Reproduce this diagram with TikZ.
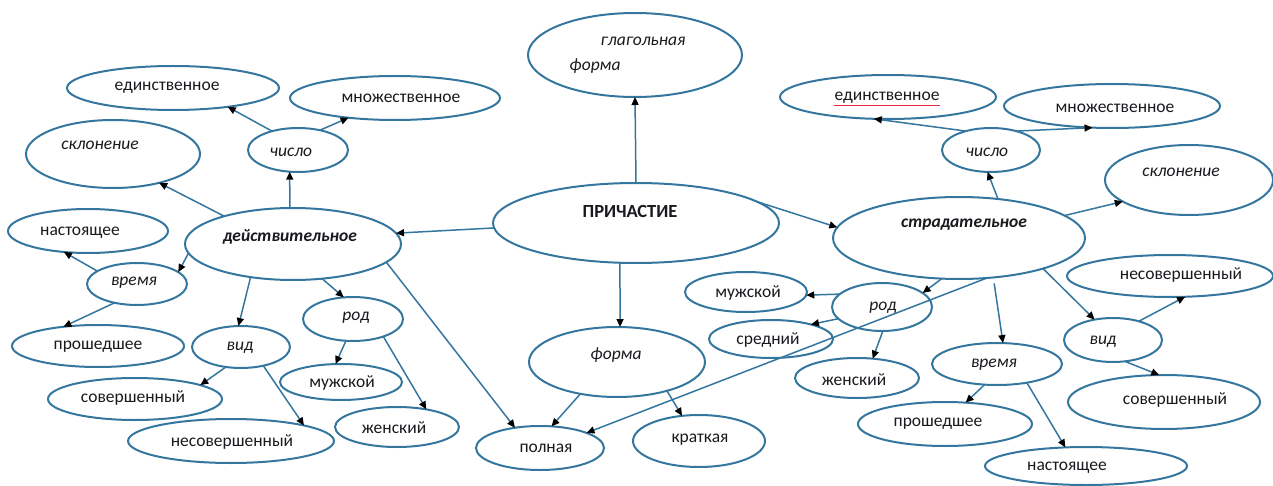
\documentclass[tikz,border=0pt]{standalone}
\usepackage{fontspec}
\setmainfont{Carlito}
\usetikzlibrary{shapes.geometric,arrows.meta}
\definecolor{lineC}{RGB}{52,118,158}
\definecolor{textC}{RGB}{25,25,30}
\definecolor{spellC}{RGB}{230,40,60}
\newcommand\bub[9]{%
  \node[ell, minimum width=2*#4, minimum height=2*#5] (#1) at (#2,#3) {};
  \node[txt,#8] (#1t) at (#6,#7) {#9};}
\tikzset{
  ell/.style={ellipse, draw=lineC, line width=2pt, inner sep=0pt, outer sep=0pt},
  txt/.style={inner sep=0pt, text=textC, font=\fontsize{17.5}{19}\selectfont},
  it/.style={font=\fontsize{17.5}{19}\selectfont\itshape},
  bit/.style={font=\fontsize{17.5}{19}\selectfont\bfseries\itshape},
  bf/.style={font=\fontsize{18.5}{20}\selectfont\bfseries},
  up/.style={},
  arr/.style={draw=lineC, line width=1.5pt, -{Triangle[length=8pt,width=7pt,color=black]}}
}
\begin{document}
\begin{tikzpicture}[x=1pt,y=-1pt]
\useasboundingbox (0,0) rectangle (1273,486);
% left
\bub{edL}{173}{88}{106}{22}{167}{88}{up}{единственное}
\bub{mnL}{395}{98}{105}{22}{401}{98}{up}{множественное}
\bub{skL}{113}{154}{87}{34}{100}{145}{it}{склонение}
\bub{chL}{298}{150}{50}{22}{291}{152}{it}{число}
\bub{naL}{88}{231}{80}{22}{80}{233}{up}{настоящее}
\bub{dv}{293}{244}{108}{36}{290}{237}{bit}{действительное}
\bub{vrL}{137}{284}{50}{21}{134}{283}{it}{время}
\bub{prL}{98}{346}{86}{21}{98}{347}{up}{прошедшее}
\bub{viL}{241}{347}{49}{21}{240}{348}{it}{вид}
\bub{roL}{353}{319}{50}{22}{356}{318}{it}{род}
\bub{soL}{135}{399}{87}{21}{133}{398}{up}{совершенный}
\bub{muL}{341}{382}{61}{18}{342}{383}{up}{мужской}
\bub{neL}{231}{441}{103}{22}{232}{442}{up}{несовершенный}
\bub{zhL}{397}{427}{62}{20}{394}{428}{up}{женский}
% centre
\node[ell, minimum width=214, minimum height=84] (gl) at (635,55) {};
\node[txt,it] (glt1) at (643,41) {глагольная};
\node[txt,it] (glt2) at (595,66) {форма};
\bub{pr}{636}{223}{143}{40}{630}{211}{bf}{ПРИЧАСТИЕ}
\bub{fo}{617}{362}{88}{35}{616}{355}{it}{форма}
\bub{po}{540}{448}{64}{22}{546}{448}{up}{полная}
\bub{kr}{699}{441}{66}{26}{700}{440}{up}{краткая}
% right
\bub{edR}{888}{97}{108}{22}{887}{98}{up}{единственное}
\draw[spellC, line width=1.2pt] ([yshift=-1.5pt]edRt.south west) -- ([yshift=-1.5pt]edRt.south east);
\bub{mnR}{1112}{106}{108}{22}{1115}{108}{up}{множественное}
\bub{chR}{991}{150}{49}{22}{987}{152}{it}{число}
\bub{skR}{1189}{180}{84}{35}{1181}{172}{it}{склонение}
\bub{st}{959}{238}{126}{41}{964}{225}{bit}{страдательное}
\bub{muR}{746}{292}{61}{20}{748}{293}{up}{мужской}
\bub{roR}{882}{307}{50}{24}{883}{308}{it}{род}
\bub{srR}{771}{339}{62}{19}{768}{340}{up}{средний}
\bub{zhR}{857}{378}{62}{20}{854}{380}{up}{женский}
\bub{vrR}{997}{364}{65}{21}{994}{365}{it}{время}
\bub{prR}{945}{424}{87}{22}{938}{424}{up}{прошедшее}
\bub{naR}{1086}{466}{101}{19}{1067}{468}{up}{настоящее}
\bub{viR}{1113}{340}{49}{22}{1103}{342}{it}{вид}
\bub{neR}{1170}{276}{103}{21}{1181}{275}{up}{несовершенный}
\bub{soR}{1164}{402}{96}{27}{1175}{400}{up}{совершенный}
% connectors left
\draw[arr] (chL.144) -- (edL.-19);
\draw[arr] (chL.42) -- (mnL.-157);
\draw[arr] (dv.95) -- (chL.249);
\draw[arr] (dv.158) -- (skL.-32);
\draw[arr] (pr.182) -- (dv.6);
\draw[arr] (dv.185) -- (vrL.16);
\draw[arr] (vrL.162) -- (naL.221);
\draw[arr] (vrL.220) -- (prL.151);
\draw[arr] (dv.218) -- (viL.97);
\draw[arr] (dv.-50) -- (roL.113);
\draw[arr] (viL.233) -- (soL.12);
\draw[arr] (viL.-40) -- (neL.12);
\draw[arr] (roL.252) -- (muL.107);
\draw[arr] (roL.-30) -- (zhL.31);
\draw[arr] (dv.-11) -- (po.141);
% centre
\draw[arr] (pr.north) -- (gl.south);
\draw[arr] (pr.248) -- (fo.85);
\draw[arr] (pr.10) -- (st.175);
\draw[arr] (fo.221) -- (po.62);
\draw[arr] (fo.-30) -- (kr.124);
% right
\draw[arr] (st.45) -- (chR.261);
\draw[arr] (chR.143) -- (edR.237);
\draw[arr] (chR.37) -- (mnR.228);
\draw[arr] (st.12) -- (skR.198);
\draw[arr] (st.247) -- (roR.19);
\draw[arr] (roR.163) -- (muR.-3);
\draw[arr] (roR.195) -- (srR.20);
\draw[arr] (roR.272) -- (zhR.51);
\draw[arr] (st.-55) -- (po.18);
\draw[arr, shorten <=6pt] (st.-49) -- (vrR.74);
\draw[arr] (vrR.239) -- (prR.46);
\draw[arr] (vrR.-32) -- (naR.138);
\draw[arr] (st.-20) -- (viR.132);
\draw[arr] (viR.36) -- (neR.-54);
\draw[arr] (viR.-61) -- (soR.100);
\end{tikzpicture}
\end{document}
